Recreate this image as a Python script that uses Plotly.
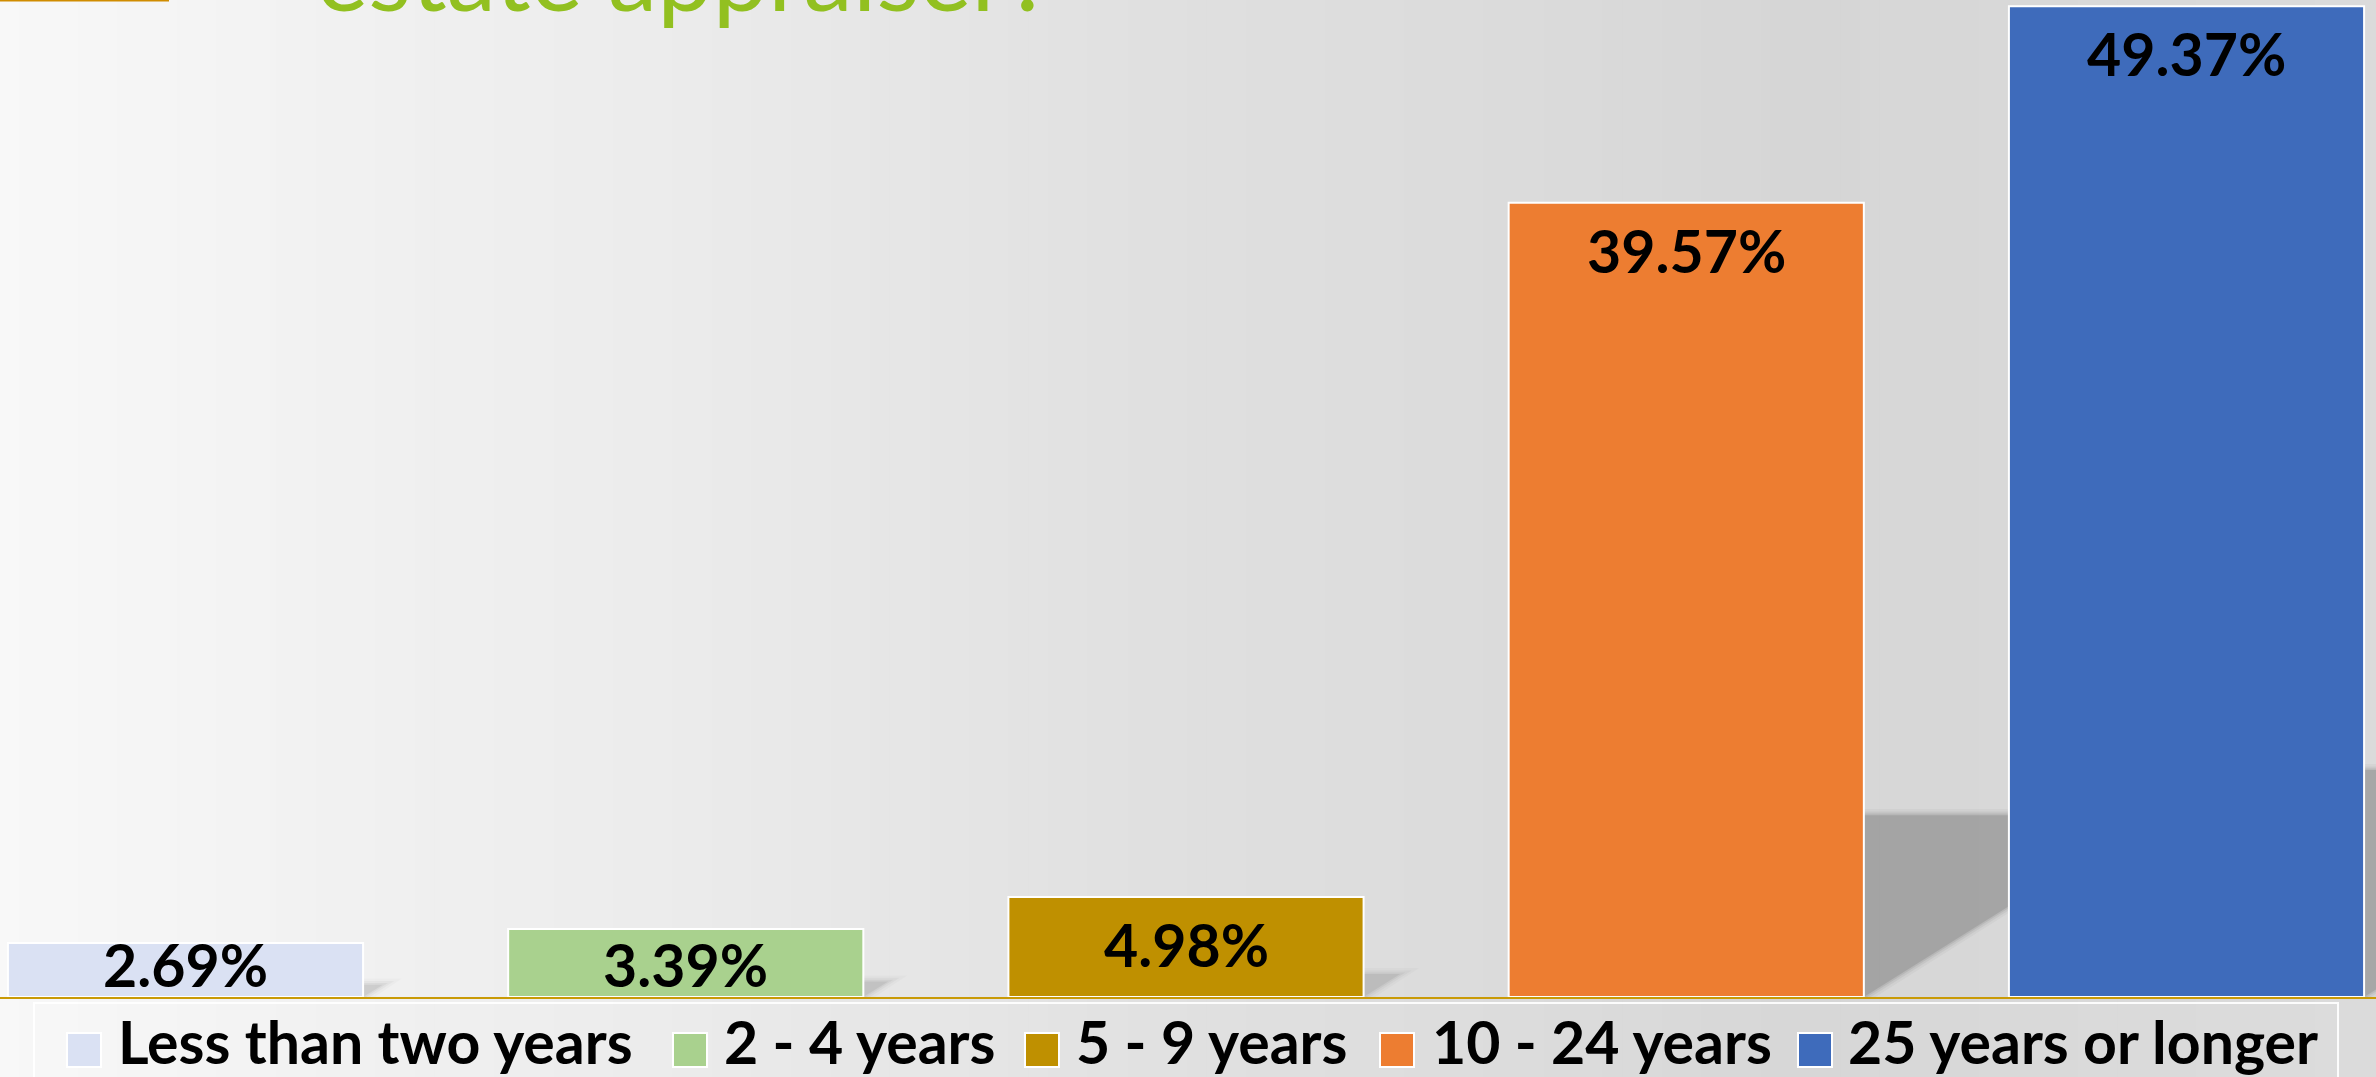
import numpy as np
import plotly.graph_objects as go

# ---------------- data ----------------
categories = ["Less than two years", "2 - 4 years", "5 - 9 years", "10 - 24 years", "25 years or longer"]
values = [2.69, 3.39, 4.98, 39.57, 49.37]
value_labels = ["2.69%", "3.39%", "4.98%", "39.57%", "49.37%"]
colors = ["#DAE1F3", "#A9D18E", "#BF9000", "#ED7D31", "#3E6BBB"]
title_text = "estate appraiser?"

# ---------------- layout constants ----------------
W, H = 2376, 1077
MB = 80
PLOT_H = H - MB                 # plot area height in px
PX_PER_UNIT = 20.07             # px per percentage point
CAT_PX = 500.25                 # px per category
FIRST_CENTER_PX = 185.5
BAR_W = 0.71
x_lo = -FIRST_CENTER_PX / CAT_PX
x_hi = x_lo + W / CAT_PX
y_hi = PLOT_H / PX_PER_UNIT

FONT = "Lato"
LABEL_SIZE = 59
LEGEND_SIZE = 59

def px_to_paper_x(px):
    return px / W

def px_to_paper_y(py):
    return (PLOT_H - py) / PLOT_H

shapes = []

# background gradient (left light -> right darker)
grad_x = [0, 450, 600, 1200, 1450, 1800, 2376]
grad_v = [248, 239, 237, 223, 220, 214, 219]
n_strips = 120
edges = np.linspace(0, W, n_strips + 1)
for i in range(n_strips):
    cx = (edges[i] + edges[i + 1]) / 2
    g = int(round(np.interp(cx, grad_x, grad_v)))
    shapes.append(dict(type="rect", xref="paper", yref="paper", layer="below",
                       x0=px_to_paper_x(edges[i]) - 0.0005, x1=px_to_paper_x(edges[i + 1]) + 0.0005,
                       y0=px_to_paper_y(H + 2), y1=px_to_paper_y(-2),
                       fillcolor=f"rgb({g},{g},{g})", line=dict(width=0)))

# thin gold rule at top-left
shapes.append(dict(type="line", xref="paper", yref="paper", layer="above",
                   x0=0, x1=px_to_paper_x(169), y0=px_to_paper_y(0.5), y1=px_to_paper_y(0.5),
                   line=dict(color="#D08C00", width=2)))

# cast shadows of bars (perspective shadow to the right/back), with soft edges
SHADOW_RATIO = 0.229
SHADOW_SLOPE = 15.6  # % per category unit
for i, v in enumerate(values):
    xr = i + BAR_W / 2
    h = v * SHADOW_RATIO
    small = v < 10
    for k, (grow, alpha) in enumerate([(0.30, 0.03), (0.18, 0.05), (0.08, 0.07), (0.0, 0.10)]):
        if small:
            alpha *= 0.6
        hh = h + grow
        xe = xr + h / SHADOW_SLOPE
        shapes.append(dict(type="path", xref="x", yref="y", layer="below",
                           path=f"M {xr},0 L {xr},{hh} L {xe + grow / SHADOW_SLOPE * 2},{hh} "
                                f"L {xr + grow / SHADOW_SLOPE * 1.2},0 Z",
                           fillcolor=f"rgba(0,0,0,{alpha})", line=dict(width=0)))

fig = go.Figure()
fig.add_trace(go.Bar(
    x=categories, y=values,
    width=BAR_W,
    marker=dict(color=colors, line=dict(color="white", width=2)),
    showlegend=False,
    hoverinfo="x+y",
))

annotations = []
# value labels near the top inside each bar
for c, v, t in zip(categories, values, value_labels):
    annotations.append(dict(x=c, y=max(v - 2.37, 1.6), xref="x", yref="y",
                            text=t, showarrow=False, xanchor="center", yanchor="middle",
                            font=dict(family=FONT, size=LABEL_SIZE, color="black", weight=700)))

# title (only the second line is visible, cut off at top as in the original slide)
annotations.append(dict(x=px_to_paper_x(684), y=px_to_paper_y(34), xref="paper", yref="paper",
                        text=title_text, showarrow=False, xanchor="center", yanchor="bottom",
                        font=dict(family=FONT, size=99, color="#92C020")))

# manual legend
LEG_BOX = (34, 1003, 2338, H + 10)
shapes.append(dict(type="rect", xref="paper", yref="paper", layer="above",
                   x0=px_to_paper_x(LEG_BOX[0]), x1=px_to_paper_x(LEG_BOX[2]),
                   y0=px_to_paper_y(LEG_BOX[3]), y1=px_to_paper_y(LEG_BOX[1]),
                   fillcolor="rgba(255,255,255,0.04)", line=dict(color="rgba(255,255,255,0.9)", width=2)))
legend_square_x = [67, 673, 1025, 1380, 1798]
legend_text_x = [116, 722, 1074, 1430, 1846]
SQ = 34
SQ_TOP = 1033
for c, col, sx, tx in zip(categories, colors, legend_square_x, legend_text_x):
    shapes.append(dict(type="rect", xref="paper", yref="paper", layer="above",
                       x0=px_to_paper_x(sx), x1=px_to_paper_x(sx + SQ),
                       y0=px_to_paper_y(SQ_TOP + SQ), y1=px_to_paper_y(SQ_TOP),
                       fillcolor=col, line=dict(color="white", width=2)))
    annotations.append(dict(x=px_to_paper_x(tx), y=px_to_paper_y(1041), xref="paper", yref="paper",
                            text=c, showarrow=False, xanchor="left", yanchor="middle",
                            font=dict(family=FONT, size=LEGEND_SIZE, color="black", weight=700)))

fig.update_layout(
    width=W, height=H,
    margin=dict(l=0, r=0, t=0, b=MB, pad=0),
    paper_bgcolor="#E6E6E6",
    plot_bgcolor="rgba(0,0,0,0)",
    bargap=1 - BAR_W,
    shapes=shapes,
    annotations=annotations,
    showlegend=False,
    xaxis=dict(range=[x_lo, x_hi], showticklabels=False, ticks="", showgrid=False,
               zeroline=False, showline=True, linecolor="#C99A06", linewidth=2,
               layer="below traces", fixedrange=True),
    yaxis=dict(range=[0, y_hi], visible=False, showgrid=False, zeroline=False, fixedrange=True),
)

fig.write_html("out.html", config={"displayModeBar": False},
               post_script="document.body.style.margin='0';document.body.style.overflow='hidden';")
